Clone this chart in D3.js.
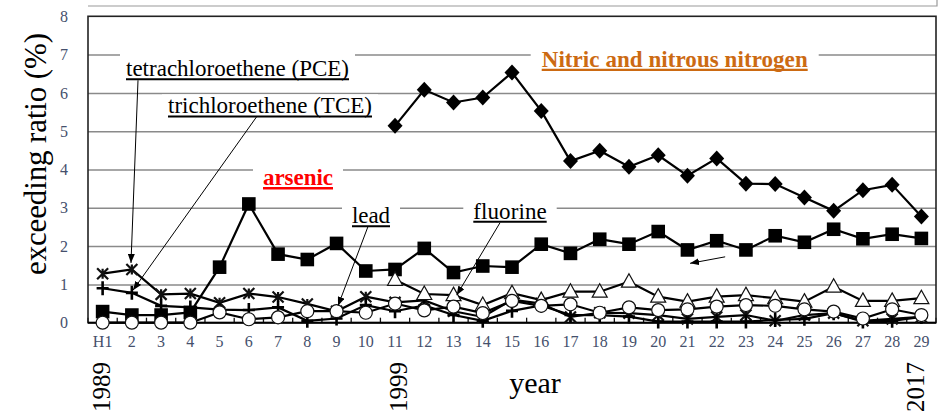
<html>
<script src="https://d3js.org/d3.v7.min.js"></script>
<style>
    body { margin: 0; background: #fff; }
    svg { display: block; }
    text { font-family: "Liberation Serif", "Times New Roman", serif; }
</style>
<body>
<svg id="chart"></svg>
<script>
    // categories (Heisei years H1..29)
    var years = ["H1", "2", "3", "4", "5", "6", "7", "8", "9", "10", "11", "12", "13", "14", "15",
        "16", "17", "18", "19", "20", "21", "22", "23", "24", "25", "26", "27", "28", "29"];
    var yTicks = [0, 1, 2, 3, 4, 5, 6, 7, 8];

    // exceeding ratio (%) per substance, null = not surveyed
    var nitric = [null, null, null, null, null, null, null, null, null, null,
        5.14, 6.08, 5.75, 5.88, 6.53, 5.53, 4.22, 4.49, 4.07, 4.37, 3.84, 4.29, 3.63, 3.62, 3.27, 2.92, 3.46, 3.6, 2.77];
    var arsenic = [0.29, 0.2, 0.2, 0.27, 1.45, 3.1, 1.79, 1.65, 2.07, 1.35, 1.39, 1.94, 1.31, 1.48, 1.45,
        2.05, 1.81, 2.18, 2.05, 2.38, 1.9, 2.14, 1.9, 2.27, 2.1, 2.44, 2.19, 2.31, 2.2];
    var pce = [1.28, 1.39, 0.74, 0.76, 0.52, 0.76, 0.67, 0.49, 0.3, 0.68, 0.53, 0.58, 0.3, 0.15, 0.6,
        0.5, 0.15, 0.26, 0.25, 0.2, 0.1, 0.15, 0.2, 0.05, 0.2, 0.25, 0.05, 0.1, 0.15];
    var tce = [0.9, 0.78, 0.44, 0.4, 0.34, 0.33, 0.4, 0.05, 0.11, 0.46, 0.3, 0.45, 0.2, 0.05, 0.31,
        0.45, 0.2, 0.2, 0.16, 0.03, 0.03, 0.03, 0.03, 0.07, 0.1, 0.25, 0.03, 0.05, 0.15];
    var fluorine = [null, null, null, null, null, null, null, null, null, null,
        1.12, 0.75, 0.72, 0.46, 0.77, 0.59, 0.81, 0.81, 1.07, 0.68, 0.55, 0.68, 0.72, 0.64, 0.55, 0.94, 0.57, 0.57, 0.64];
    var lead = [0, 0, 0, 0, 0.27, 0.09, 0.14, 0.3, 0.3, 0.26, 0.5, 0.32, 0.42, 0.25, 0.57,
        0.44, 0.48, 0.26, 0.4, 0.33, 0.35, 0.42, 0.46, 0.44, 0.35, 0.29, 0.11, 0.35, 0.2];

    var series = [
        { values: nitric, marker: "diamond" },
        { values: arsenic, marker: "square" },
        { values: pce, marker: "star" },
        { values: tce, marker: "plus" },
        { values: fluorine, marker: "triangle" },
        { values: lead, marker: "circle" }
    ];

    var width = 941, height = 411;
    var plot = { left: 88, right: 936, top: 16.3, bottom: 322.7 };

    var svg = d3.select("#chart")
        .attr("width", width)
        .attr("height", height);

    var x = d3.scaleBand().domain(years).range([plot.left, plot.right]);
    var cx = function (d) { return x(d) + x.bandwidth() / 2; };
    var y = d3.scaleLinear().domain([0, 8]).range([plot.bottom, plot.top]);
    // fractional index -> px, for annotation arrows
    var xi = d3.scaleLinear().domain([0, years.length - 1]).range([cx(years[0]), cx(years[years.length - 1])]);

    // leftover frame edge above the plot
    svg.append("path")
        .attr("d", "M" + plot.left + ",6H937V0")
        .attr("fill", "none")
        .attr("stroke", "#9a9a9a")
        .attr("stroke-width", 1.2);

    // gridlines
    svg.append("g")
        .attr("transform", "translate(" + plot.left + ",0)")
        .call(d3.axisLeft(y).tickValues(yTicks.slice(1, -1)).tickSize(-(plot.right - plot.left)).tickFormat(""))
        .call(function (g) { g.select(".domain").remove(); })
        .selectAll("line")
        .attr("stroke", "#8a8a8a")
        .attr("stroke-width", 1.5);

    // y tick labels
    svg.append("g")
        .attr("transform", "translate(" + plot.left + ",0)")
        .call(d3.axisLeft(y).tickValues(yTicks).tickSize(0).tickPadding(20))
        .call(function (g) { g.select(".domain").remove(); })
        .selectAll("text")
        .style("font-family", "Liberation Serif")
        .attr("font-size", 16)
        .attr("fill", "#45506c");

    // x tick labels
    svg.append("g")
        .attr("transform", "translate(0," + plot.bottom + ")")
        .call(d3.axisBottom(x).tickSize(0).tickPadding(13))
        .call(function (g) { g.select(".domain").remove(); })
        .selectAll("text")
        .style("font-family", "Liberation Serif")
        .attr("font-size", 16)
        .attr("fill", "#45506c");

    // small inner ticks at category boundaries
    svg.append("g")
        .selectAll("line")
        .data(years.concat(["end"]))
        .enter()
        .append("line")
        .attr("x1", function (d) { return d == "end" ? plot.right : x(d); })
        .attr("x2", function (d) { return d == "end" ? plot.right : x(d); })
        .attr("y1", plot.bottom)
        .attr("y2", plot.bottom - 5)
        .attr("stroke", "#111")
        .attr("stroke-width", 1.3);

    // labels with white boxes over the gridlines
    var labels = [
        { text: "tetrachloroethene (PCE)", x: 126, y: 76, len: 223, bold: false, color: "#000", padX: 6, top: 24 },
        { text: "trichloroethene (TCE)", x: 168, y: 113.3, len: 204, bold: false, color: "#000", padX: 6, top: 19 },
        { text: "arsenic", x: 263, y: 185, len: 70, bold: true, color: "#ff0000", padX: 10, top: 24 },
        { text: "Nitric and nitrous nitrogen", x: 541.7, y: 66.7, len: 266, bold: true, color: "#cc6a12", padX: 11, top: 24 },
        { text: "lead", x: 352, y: 223, len: 38, bold: false, color: "#000", padX: 10, top: 24 },
        { text: "fluorine", x: 473.3, y: 218.5, len: 73.4, bold: false, color: "#000", padX: 10, top: 24 }
    ];

    var labelG = svg.append("g");
    labels.forEach(function (l) {
        var g = labelG.append("g");
        g.append("rect")
            .attr("fill", "#fff")
            .attr("x", l.x - l.padX)
            .attr("y", l.y - l.top)
            .attr("width", l.len + 2 * l.padX)
            .attr("height", l.top + 7);
        g.append("text")
            .attr("x", l.x)
            .attr("y", l.y)
            .attr("font-size", 23)
            .attr("font-weight", l.bold ? "bold" : "normal")
            .attr("fill", l.color)
            .attr("textLength", l.len)
            .attr("lengthAdjust", "spacing")
            .text(l.text);
        g.append("line")
            .attr("x1", l.x)
            .attr("x2", l.x + l.len)
            .attr("y1", l.y + 3.2)
            .attr("y2", l.y + 3.2)
            .attr("stroke", l.color)
            .attr("stroke-width", l.bold ? 2.4 : 2);
    });

    // plot frame and baseline
    svg.append("rect")
        .attr("x", plot.left)
        .attr("y", plot.top)
        .attr("width", plot.right - plot.left)
        .attr("height", plot.bottom - plot.top)
        .attr("fill", "none")
        .attr("stroke", "#222")
        .attr("stroke-width", 1.6);
    svg.append("line")
        .attr("x1", plot.left).attr("x2", plot.right)
        .attr("y1", plot.bottom).attr("y2", plot.bottom)
        .attr("stroke", "#000")
        .attr("stroke-width", 2);

    // markers
    function drawMarker(g, type) {
        if (type == "diamond") {
            g.append("path").attr("d", "M0,-8L7.5,0L0,8L-7.5,0Z").attr("fill", "#000");
        } else if (type == "square") {
            g.append("rect").attr("x", -6.8).attr("y", -6.8).attr("width", 13.6).attr("height", 13.6).attr("fill", "#000");
        } else if (type == "triangle") {
            g.append("path").attr("d", "M0,-8L7.5,5.5L-7.5,5.5Z").attr("fill", "#fff").attr("stroke", "#111").attr("stroke-width", 1.2);
        } else if (type == "circle") {
            g.append("circle").attr("r", 6.5).attr("fill", "#fff").attr("stroke", "#111").attr("stroke-width", 1.2);
        } else if (type == "star") {
            g.append("path").attr("d", "M-5.5,-5.5L5.5,5.5M5.5,-5.5L-5.5,5.5M0,-5L0,5")
                .attr("stroke", "#111").attr("stroke-width", 2.2);
        } else if (type == "plus") {
            g.append("path").attr("d", "M-6,0L6,0M0,-7L0,7")
                .attr("stroke", "#000").attr("stroke-width", 2.6);
        }
    }

    var line = d3.line()
        .defined(function (d) { return d.v != null; })
        .x(function (d) { return cx(d.c); })
        .y(function (d) { return y(d.v); });

    series.forEach(function (s) {
        var pts = s.values.map(function (v, i) { return { c: years[i], v: v }; });
        var g = svg.append("g");
        g.append("path")
            .datum(pts)
            .attr("fill", "none")
            .attr("stroke", "#000")
            .attr("stroke-width", 2.2)
            .attr("d", line);
        g.selectAll("g")
            .data(pts.filter(function (d) { return d.v != null; }))
            .enter()
            .append("g")
            .attr("transform", function (d) { return "translate(" + cx(d.c) + "," + y(d.v) + ")"; })
            .each(function () { drawMarker(d3.select(this), s.marker); });
    });

    // arrows (index, value)
    var arrows = [
        { from: [1.21, 6.33], to: [0.97, 1.56] },
        { from: [5.27, 5.38], to: [1.04, 0.85] },
        { from: [9.08, 2.52], to: [8.05, 0.44] },
        { from: [13.59, 2.61], to: [12.11, 0.72] },
        { from: [21.29, 1.72], to: [20.09, 1.55] }
    ];

    svg.append("defs").append("marker")
        .attr("id", "head")
        .attr("markerUnits", "userSpaceOnUse")
        .attr("markerWidth", 9)
        .attr("markerHeight", 7)
        .attr("refX", 9)
        .attr("refY", 3.5)
        .attr("orient", "auto")
        .append("path")
        .attr("d", "M0,0L9,3.5L0,7Z")
        .attr("fill", "#000");

    svg.append("g")
        .selectAll("line")
        .data(arrows)
        .enter()
        .append("line")
        .attr("x1", function (d) { return xi(d.from[0]); })
        .attr("y1", function (d) { return y(d.from[1]); })
        .attr("x2", function (d) { return xi(d.to[0]); })
        .attr("y2", function (d) { return y(d.to[1]); })
        .attr("stroke", "#000")
        .attr("stroke-width", 1)
        .attr("marker-end", "url(#head)");

    // axis titles
    svg.append("text")
        .attr("transform", "translate(46,154) rotate(-90)")
        .attr("text-anchor", "middle")
        .attr("font-size", 31)
        .attr("textLength", 242)
        .attr("lengthAdjust", "spacing")
        .text("exceeding ratio (%)");

    svg.append("text")
        .attr("x", 535)
        .attr("y", 393)
        .attr("text-anchor", "middle")
        .attr("font-size", 30)
        .text("year");

    // western year markers
    var eraMarks = [
        { label: "1989", at: "H1", dx: 7 },
        { label: "1999", at: "11", dx: 12 },
        { label: "2017", at: "29", dx: 3 }
    ];
    svg.append("g")
        .selectAll("text")
        .data(eraMarks)
        .enter()
        .append("text")
        .attr("transform", function (d) { return "translate(" + (cx(d.at) + d.dx) + ",412) rotate(-90)"; })
        .attr("font-size", 25)
        .text(function (d) { return d.label; });
</script>
</body>
</html>
